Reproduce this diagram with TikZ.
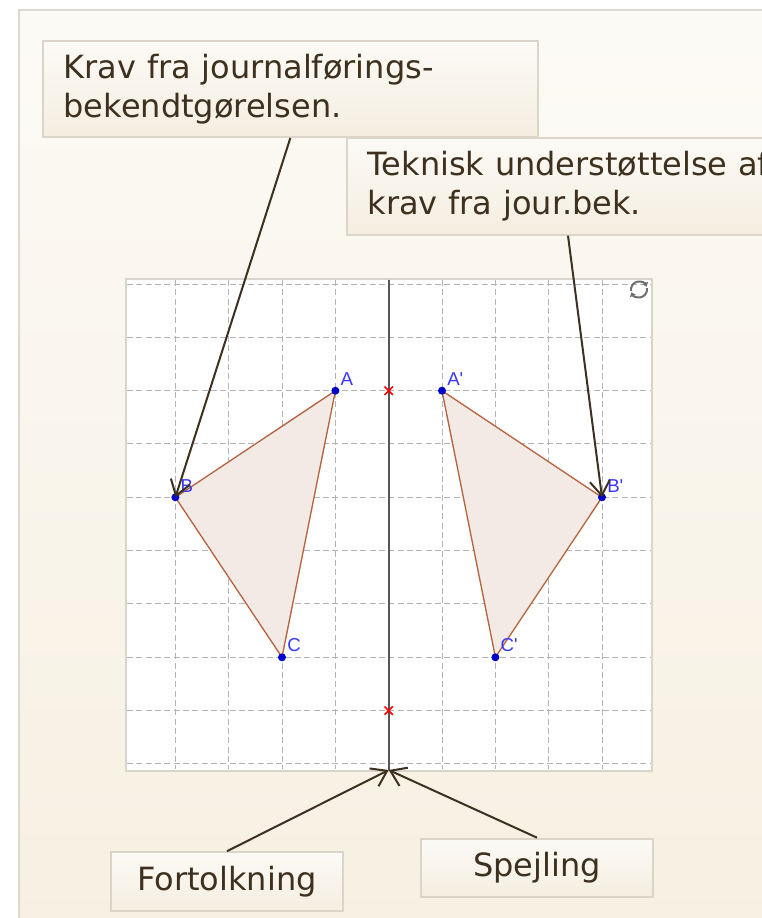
\documentclass[tikz,border=0pt]{standalone}
\usepackage{fontspec}
\setmainfont{DejaVu Sans}
\newfontfamily\ptfont{Liberation Sans}
\usepackage{xcolor}
\usepackage{tikz}
\definecolor{inkbrown}{RGB}{61,48,30}
\definecolor{paneltop}{RGB}{252,250,245}
\definecolor{panelbot}{RGB}{247,240,226}
\definecolor{panelline}{RGB}{222,217,206}
\definecolor{boxtop}{RGB}{252,250,246}
\definecolor{boxbot}{RGB}{244,238,224}
\definecolor{boxline}{RGB}{218,213,200}
\definecolor{gridgray}{RGB}{180,180,180}
\definecolor{graphframe}{RGB}{216,213,205}
\definecolor{axisgray}{RGB}{85,85,85}
\definecolor{ptblue}{RGB}{0,0,204}
\definecolor{lblblue}{RGB}{55,55,255}
\definecolor{polyedge}{RGB}{180,100,65}
\definecolor{polyfill}{RGB}{244,234,229}
\definecolor{icongray}{RGB}{110,110,110}
\usetikzlibrary{arrows.meta,shapes.misc}

\tikzset{
  note/.style={draw=boxline, line width=1.5pt, top color=boxtop, bottom color=boxbot,
    text=inkbrown, inner xsep=15.5pt, inner ysep=0pt, align=left,
    font=\fontsize{24}{29.25}\selectfont},
  tag/.style={draw=boxline, line width=1.5pt, top color=boxtop, bottom color=boxbot,
    text=inkbrown, minimum width=174pt, minimum height=44pt, inner sep=0pt,
    font=\fontsize{24}{28}\selectfont},
  callout/.style={draw=inkbrown, line width=1.5pt, -{Straight Barb[length=11pt,width=15pt]}},
  lbl/.style={text=lblblue, inner sep=1.5pt, font=\ptfont\fontsize{14}{14}\selectfont},
  gpt/.style={circle, fill=ptblue, inner sep=0pt, minimum size=6pt, label={[lbl]above right:#1}},
  mirrorpt/.style={cross out, draw=red, line width=1.2pt, inner sep=0pt, minimum size=5pt},
  gridline/.style={gridgray, line width=0.75pt, dash pattern=on 4.5pt off 2.5pt},
  polygon/.style={draw=polyedge, fill=polyfill, line width=1pt, line join=round}
}

\begin{document}
\begin{tikzpicture}[x=0.75pt,y=-0.75pt]
    \useasboundingbox (0,0) rectangle (762,918);
    \clip (0,0) rectangle (762,918);
    \fill[white] (0,0) rectangle (762,918);

    % applet background
    \shade[top color=paneltop, bottom color=panelbot] (19,9) rectangle (770,925);
    \draw[panelline, line width=1.5pt] (19,925) -- (19,9.5) -- (770,9.5);

    % graphics view with dashed grid
    \draw[graphframe, line width=1.5pt, fill=white] (125.5,278.5) rectangle (651.5,770.5);
    \foreach \k in {0,...,9} {
        \draw[gridline] (127,{284+53.33*\k}) -- (650,{284+53.33*\k});
    }
    \foreach \j in {-4,...,4} {
        \draw[gridline] ({388.7+53.33*\j},280) -- ({388.7+53.33*\j},769);
    }

    % mirror line
    \coordinate (axtop) at (388.7,279.5);
    \coordinate (axbot) at (388.7,770);
    \draw[axisgray, line width=1.5pt] (axtop) -- (axbot);
    \node[mirrorpt] (m1) at (388.7,390.7) {};
    \node[mirrorpt] (m2) at (388.7,710.6) {};

    % triangle and its mirror image
    \coordinate (pA) at (335.4,390.7);
    \coordinate (pB) at (175.4,497.3);
    \coordinate (pC) at (282.0,657.3);
    \coordinate (pAp) at (442.0,390.7);
    \coordinate (pBp) at (602.0,497.3);
    \coordinate (pCp) at (495.4,657.3);
    \filldraw[polygon] (pA) -- (pB) -- (pC) -- cycle;
    \filldraw[polygon] (pAp) -- (pBp) -- (pCp) -- cycle;
    \node[gpt=A] (A) at (pA) {};
    \node[gpt=B] (B) at (pB) {};
    \node[gpt=C] (C) at (pC) {};
    \node[gpt=A'] (Ap) at (pAp) {};
    \node[gpt=B'] (Bp) at (pBp) {};
    \node[gpt=C'] (Cp) at (pCp) {};

    % refresh icon
    \draw[icongray, line width=1.5pt, -{Triangle[length=3pt,width=4.5pt]}]
        (639,289.5) ++(170:8) arc[start angle=170, end angle=340, radius=8];
    \draw[icongray, line width=1.5pt, -{Triangle[length=3pt,width=4.5pt]}]
        (639,289.5) ++(-10:8) arc[start angle=-10, end angle=160, radius=8];

    % text boxes
    \node[note, anchor=north west, text width=340pt, minimum height=72pt] (krav) at (42,40)
        {Krav fra journalførings-\\bekendtgørelsen.};
    \node[note, anchor=north west, text width=315pt, minimum height=72.5pt] (tek) at (346,137)
        {Teknisk understøttelse af\\krav fra jour.bek.};
    \node[tag] (fort) at (227,881.5) {Fortolkning};
    \node[tag] (spej) at (537,868) {Spejling};

    % arrows
    \draw[callout] (krav.south) -- (pB);
    \draw[callout] ([xshift=166.5pt]tek.south west) -- (pBp);
    \draw[callout] (fort.north) -- (axbot);
    \draw[callout] (spej.north) -- (axbot);
\end{tikzpicture}
\end{document}
